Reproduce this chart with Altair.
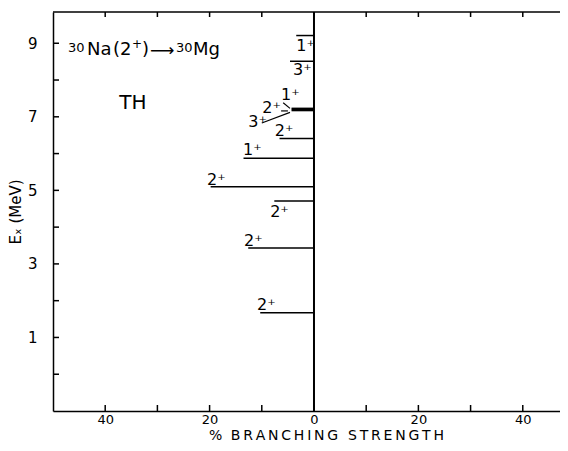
import altair as alt
import pandas as pd

# ---- data ----
energy = [1.67, 3.43, 4.71, 5.10, 5.87, 6.41, 7.17, 7.20, 7.23, 8.51, 9.21]      # Ex (MeV)
strength = [10.3, 12.6, 7.6, 19.8, 13.5, 6.6, 4.3, 4.3, 4.3, 4.6, 3.4]           # % branching
spin = ["2⁺", "2⁺", "2⁺", "2⁺", "1⁺", "2⁺", "3⁺", "2⁺", "1⁺", "3⁺", "1⁺"]

# spin-label anchors (data coordinates)
label_x = [-10.9, -13.4, -8.4, -20.5, -13.6, -7.5, -12.6, -9.9, -6.3, -4.0, -3.4]
label_y = [1.76, 3.49, 4.28, 5.15, 5.96, 6.47, 6.72, 7.10, 7.45, 8.13, 8.80]

# pointer lines for the 7.2 MeV cluster
ptr_x = [-5.9, -6.3, -10.0]
ptr_x2 = [-4.6, -5.0, -4.6]
ptr_y = [7.38, 7.16, 6.83]
ptr_y2 = [7.23, 7.16, 7.12]

# reaction title pieces: text, x, y (data coords), font size
title_txt = ["30", "Na", "(2", "+", ")", "⟶", "30", "Mg"]
title_x = [-47.13, -43.49, -38.51, -34.87, -32.95, -31.42, -26.44, -23.18]
title_y = [8.77, 8.67, 8.67, 8.87, 8.67, 8.65, 8.77, 8.67]
title_size = [13, 18, 18, 12, 18, 17, 13, 18]

x_ticks = [-40, -30, -20, -10, 0, 10, 20, 30, 40]
x_labels = [-40, -20, 0, 20, 40]
y_ticks = [0, 1, 2, 3, 4, 5, 6, 7, 8, 9]
y_labels = [1, 3, 5, 7, 9]

W, H = 507, 399
FONT = "DejaVu Sans"
HS = "\u200a\u200a"
GAP = "\u2002\u200a"
xtitle = "%" + GAP + HS.join("BRANCHING") + GAP + "\u200a" + HS.join("STRENGTH")

xs = alt.Scale(domain=[-50, 47.13], nice=False, zero=False)
ys = alt.Scale(domain=[-1, 9.85], nice=False, zero=False)

X = alt.X("x:Q", scale=xs, title=xtitle,
          axis=alt.Axis(values=x_labels, labelExpr="abs(datum.value)", ticks=False,
                        grid=False, domainColor="black", domainWidth=1.5,
                        labelFontSize=13, labelPadding=2, labelColor="black",
                        titleFontSize=14, titleFontWeight="normal", titlePadding=2.5,
                        titleX=273, titleAlign="center",
                        titleColor="black", labelFont=FONT, titleFont=FONT))
Y = alt.Y("y:Q", scale=ys, title="Eₓ (MeV)",
          axis=alt.Axis(values=y_labels, ticks=False, grid=False, domainColor="black",
                        domainWidth=1.5, labelFontSize=15, labelPadding=16,
                        labelColor="black", titleFontSize=15, titleFontWeight="normal",
                        titlePadding=4, titleColor="black", labelFont=FONT, titleFont=FONT))

levels = pd.DataFrame({"x": [-s for s in strength], "y": energy})
labels = pd.DataFrame({"x": label_x, "y": label_y, "t": spin})
ptrs = pd.DataFrame({"x": ptr_x, "x2": ptr_x2, "y": ptr_y, "y2": ptr_y2})
titles = pd.DataFrame({"x": title_x, "y": title_y, "t": title_txt, "s": title_size})
xt = pd.DataFrame({"x": x_ticks})
yt = pd.DataFrame({"y": y_ticks})

level_layer = alt.Chart(levels).mark_rule(color="black", strokeWidth=1.5).encode(
    x=X, x2=alt.datum(0), y=Y)
label_layer = alt.Chart(labels).mark_text(
    align="left", baseline="alphabetic", font=FONT, fontSize=16, color="black"
).encode(x="x:Q", y="y:Q", text="t:N")
ptr_layer = alt.Chart(ptrs).mark_rule(color="black", strokeWidth=1.2).encode(
    x="x:Q", x2="x2:Q", y="y:Q", y2="y2:Q")
zero_line = alt.Chart(pd.DataFrame({"x": [0]})).mark_rule(color="black", strokeWidth=2).encode(
    x="x:Q")
left_ticks = alt.Chart(yt).mark_rule(color="black", strokeWidth=1.5).encode(
    y="y:Q", x=alt.value(0), x2=alt.value(6))
bottom_ticks = alt.Chart(xt).mark_rule(color="black", strokeWidth=1.5).encode(
    x="x:Q", y=alt.value(H), y2=alt.value(H - 6))
top_ticks = alt.Chart(xt).mark_rule(color="black", strokeWidth=1.5).encode(
    x="x:Q", y=alt.value(0), y2=alt.value(5))
top_border = alt.Chart(pd.DataFrame({"a": [0]})).mark_rule(color="black", strokeWidth=1.5).encode(
    x=alt.value(0), x2=alt.value(W), y=alt.value(0))

title_layer = alt.Chart(titles).mark_text(
    align="left", baseline="alphabetic", font=FONT, color="black"
).encode(x="x:Q", y="y:Q", text="t:N",
         size=alt.Size("s:Q", scale=None, legend=None))
th_df = pd.DataFrame({"x": [-34.7], "y": [7.21], "t": ["TH"]})
th_layer = alt.Chart(th_df).mark_text(
    align="center", baseline="alphabetic", font=FONT, fontSize=20, color="black"
).encode(x="x:Q", y="y:Q", text="t:N")

chart = alt.layer(
    level_layer, zero_line, left_ticks, bottom_ticks, top_ticks, top_border,
    ptr_layer, label_layer, title_layer, th_layer
).properties(
    width=W, height=H,
    autosize=alt.AutoSizeParams(type="none"),
    padding={"left": 45, "top": 4, "right": 0, "bottom": 32},
    background="white"
).configure_view(stroke=None)

chart.save("out.html", embed_options={"renderer": "svg", "actions": False})
